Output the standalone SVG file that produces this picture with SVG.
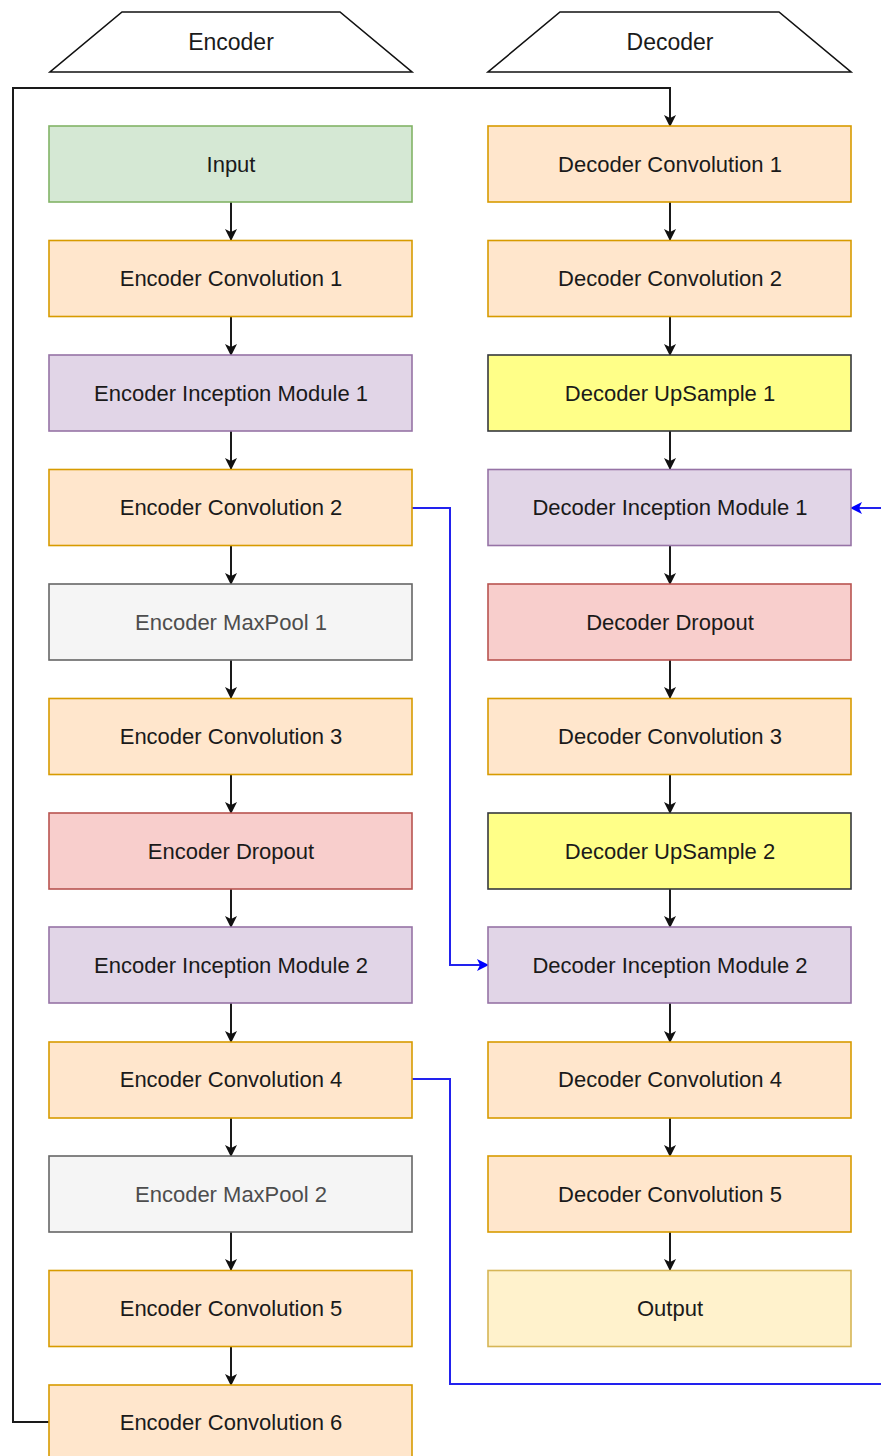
<svg xmlns="http://www.w3.org/2000/svg" width="881" height="1456" viewBox="0 0 881 1456">
<style>
text{font-family:"Liberation Sans",Arial,sans-serif;font-size:22px;text-anchor:middle;fill:#1a1a1a}
.hd{font-size:23px}
.n{stroke-width:1.6}
.or{fill:#ffe6cc;stroke:#d79b00}
.pu{fill:#e1d5e7;stroke:#9673a6}
.gr{fill:#d5e8d4;stroke:#82b366}
.gy{fill:#f5f5f5;stroke:#666666}
.rd{fill:#f8cecc;stroke:#b85450}
.ye{fill:#ffff88;stroke:#36393d}
.op{fill:#fff2cc;stroke:#d6b656}
.gyt{fill:#4d4d4d}
.c{fill:none;stroke:#1a1a1a;stroke-width:2}
.b{fill:none;stroke:#2222ee;stroke-width:2}
</style>
<defs>
<marker id="ah" markerWidth="12" markerHeight="12" refX="11" refY="6" orient="auto" markerUnits="userSpaceOnUse"><path d="M0,0 L12,6 L0,12 L3,6 Z" fill="#111"/></marker>
<marker id="ab" markerWidth="12" markerHeight="12" refX="11" refY="6" orient="auto" markerUnits="userSpaceOnUse"><path d="M0,0 L12,6 L0,12 L3,6 Z" fill="#0000ff"/></marker>
</defs>
<g id="hdr-enc"><path d="M122,12 L340,12 L412,72 L50,72 Z" fill="#fff" stroke="#111" stroke-width="1.6"/><text class="hd" x="231" y="50">Encoder</text></g>
<g id="hdr-dec"><path d="M560,12 L779,12 L851,72 L488,72 Z" fill="#fff" stroke="#111" stroke-width="1.6"/><text class="hd" x="670" y="50">Decoder</text></g>
<g id="connectors">
<path class="c" d="M231,202 V240"  marker-end="url(#ah)"/>
<path class="c" d="M231,317 V355" marker-end="url(#ah)"/>
<path class="c" d="M231,431 V469" marker-end="url(#ah)"/>
<path class="c" d="M231,546 V584" marker-end="url(#ah)"/>
<path class="c" d="M231,660 V698" marker-end="url(#ah)"/>
<path class="c" d="M231,775 V813" marker-end="url(#ah)"/>
<path class="c" d="M231,889 V927" marker-end="url(#ah)"/>
<path class="c" d="M231,1003 V1042" marker-end="url(#ah)"/>
<path class="c" d="M231,1118 V1156" marker-end="url(#ah)"/>
<path class="c" d="M231,1232 V1270" marker-end="url(#ah)"/>
<path class="c" d="M231,1347 V1385" marker-end="url(#ah)"/>
<path class="c" d="M670,202 V240" marker-end="url(#ah)"/>
<path class="c" d="M670,317 V355" marker-end="url(#ah)"/>
<path class="c" d="M670,431 V469" marker-end="url(#ah)"/>
<path class="c" d="M670,546 V584" marker-end="url(#ah)"/>
<path class="c" d="M670,660 V698" marker-end="url(#ah)"/>
<path class="c" d="M670,775 V813" marker-end="url(#ah)"/>
<path class="c" d="M670,889 V927" marker-end="url(#ah)"/>
<path class="c" d="M670,1003 V1042" marker-end="url(#ah)"/>
<path class="c" d="M670,1118 V1156" marker-end="url(#ah)"/>
<path class="c" d="M670,1232 V1270" marker-end="url(#ah)"/>
<path class="c" d="M49,1422 H13 V88 H670 V126" marker-end="url(#ah)"/>
<path class="b" d="M412,508 H450 V965 H488" marker-end="url(#ab)"/>
<path class="b" d="M412,1079 H450 V1384 H900 V508 H851" marker-end="url(#ab)"/>
</g>
<g id="n-input"><rect class="n gr" x="49" y="126" width="363" height="76"/><text x="231" y="172">Input</text></g>
<g id="n-ec1"><rect class="n or" x="49" y="240.5" width="363" height="76"/><text x="231" y="286">Encoder Convolution 1</text></g>
<g id="n-ei1"><rect class="n pu" x="49" y="355" width="363" height="76"/><text x="231" y="401">Encoder Inception Module 1</text></g>
<g id="n-ec2"><rect class="n or" x="49" y="469.5" width="363" height="76"/><text x="231" y="515">Encoder Convolution 2</text></g>
<g id="n-em1"><rect class="n gy" x="49" y="584" width="363" height="76"/><text class="gyt" x="231" y="630">Encoder MaxPool 1</text></g>
<g id="n-ec3"><rect class="n or" x="49" y="698.5" width="363" height="76"/><text x="231" y="744">Encoder Convolution 3</text></g>
<g id="n-edo"><rect class="n rd" x="49" y="813" width="363" height="76"/><text x="231" y="859">Encoder Dropout</text></g>
<g id="n-ei2"><rect class="n pu" x="49" y="927" width="363" height="76"/><text x="231" y="973">Encoder Inception Module 2</text></g>
<g id="n-ec4"><rect class="n or" x="49" y="1042" width="363" height="76"/><text x="231" y="1087">Encoder Convolution 4</text></g>
<g id="n-em2"><rect class="n gy" x="49" y="1156" width="363" height="76"/><text class="gyt" x="231" y="1202">Encoder MaxPool 2</text></g>
<g id="n-ec5"><rect class="n or" x="49" y="1270.5" width="363" height="76"/><text x="231" y="1316">Encoder Convolution 5</text></g>
<g id="n-ec6"><rect class="n or" x="49" y="1385" width="363" height="76"/><text x="231" y="1430">Encoder Convolution 6</text></g>
<g id="n-dc1"><rect class="n or" x="488" y="126" width="363" height="76"/><text x="670" y="172">Decoder Convolution 1</text></g>
<g id="n-dc2"><rect class="n or" x="488" y="240.5" width="363" height="76"/><text x="670" y="286">Decoder Convolution 2</text></g>
<g id="n-du1"><rect class="n ye" x="488" y="355" width="363" height="76"/><text x="670" y="401">Decoder UpSample 1</text></g>
<g id="n-di1"><rect class="n pu" x="488" y="469.5" width="363" height="76"/><text x="670" y="515">Decoder Inception Module 1</text></g>
<g id="n-ddo"><rect class="n rd" x="488" y="584" width="363" height="76"/><text x="670" y="630">Decoder Dropout</text></g>
<g id="n-dc3"><rect class="n or" x="488" y="698.5" width="363" height="76"/><text x="670" y="744">Decoder Convolution 3</text></g>
<g id="n-du2"><rect class="n ye" x="488" y="813" width="363" height="76"/><text x="670" y="859">Decoder UpSample 2</text></g>
<g id="n-di2"><rect class="n pu" x="488" y="927" width="363" height="76"/><text x="670" y="973">Decoder Inception Module 2</text></g>
<g id="n-dc4"><rect class="n or" x="488" y="1042" width="363" height="76"/><text x="670" y="1087">Decoder Convolution 4</text></g>
<g id="n-dc5"><rect class="n or" x="488" y="1156" width="363" height="76"/><text x="670" y="1202">Decoder Convolution 5</text></g>
<g id="n-out"><rect class="n op" x="488" y="1270.5" width="363" height="76"/><text x="670" y="1316">Output</text></g>
</svg>
